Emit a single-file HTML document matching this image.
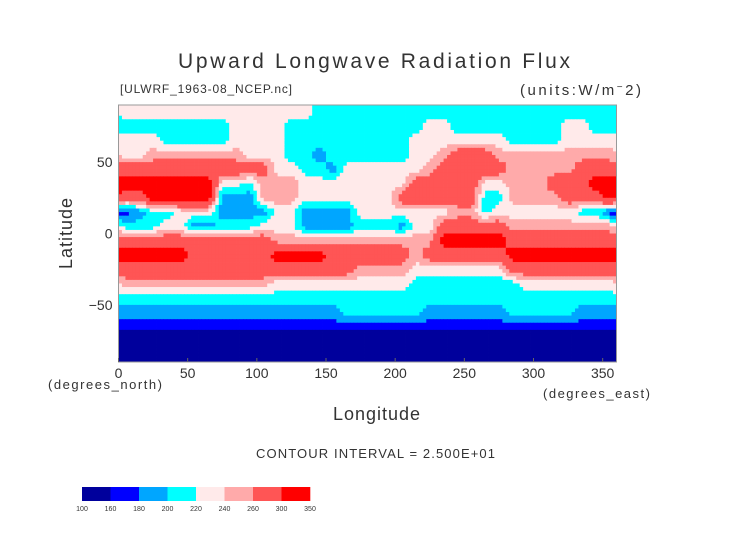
<!DOCTYPE html>
<html><head><meta charset="utf-8"><style>
body{margin:0;background:#fff;}
svg text{font-family:"Liberation Sans","DejaVu Sans",sans-serif;fill:#333;}
</style></head><body>
<svg width="752" height="532" viewBox="0 0 752 532" xmlns="http://www.w3.org/2000/svg">
<rect width="752" height="532" fill="#fff"/>
<text x="178" y="68" font-size="21" textLength="392" lengthAdjust="spacing">Upward Longwave Radiation Flux</text>
<text x="120" y="93" font-size="12" textLength="172" lengthAdjust="spacing">[ULWRF_1963-08_NCEP.nc]</text>
<text x="520" y="95" font-size="15" textLength="121" lengthAdjust="spacing">(units:W/m<tspan baseline-shift="super" font-size="10">−</tspan>2)</text>
<g id="field"></g>
<rect x="118.5" y="105" width="498" height="257" fill="none" stroke="#999" stroke-width="1"/>
<g id="axes"></g>
<text x="48" y="389" font-size="13" textLength="114" lengthAdjust="spacing">(degrees_north)</text>
<text x="543" y="398" font-size="13" textLength="107" lengthAdjust="spacing">(degrees_east)</text>
<text x="333" y="420" font-size="18" textLength="87" lengthAdjust="spacing">Longitude</text>
<text x="0" y="0" font-size="18" text-anchor="middle" letter-spacing="1" transform="translate(72,233) rotate(-90)">Latitude</text>
<text x="256" y="458" font-size="13" textLength="239" lengthAdjust="spacing">CONTOUR INTERVAL = 2.500E+01</text>
<g id="cbar"></g>
</svg>
<script>
const NS="http://www.w3.org/2000/svg";
const levels=[100,160,180,200,220,240,260,300,350];
const levelLabels=["100","160","180","200","220","240","260","300","350"];
const colors=["#00009c","#0000ff","#00a6ff","#00ffff","#ffeaea","#ffaaaa","#ff5555","#ff0000"];
const xTicks=[0,50,100,150,200,250,300,350];
const yTicks=[50,0,-50];
const lats=[85,75,65,55,45,35,25,15,5,-5,-15,-25,-35,-45,-55,-65,-75,-85];
// row codes: A=110 B=170 C=190 D=210 E=230 F=250 G=280 H=320 (10deg lon cells, 0..360)
const rows=[
"EEEEEEEEEEEEEEDDDDDDDDDDDDDDDDDDDDDD",
"DDDDDDDDEEEEDDDDDDDDDDEEDDDDDDDDEEDD",
"EEEDDDDDEEEEDDDDDDDDDEEEEEEEDDDDEEEE",
"EEFFFFFFFEEEDDCDDDDDDEEFGGGFFFFFFFFF",
"GGGGGGGGGGGEEDDCEEEEEEFGGGGGFFFFFGGG",
"HHHHHHHEEDFFFEEEEEEEEGGGGGEEFFFGGGHH",
"GGHHHHHCCCFFFEEEEEEEGGGGGGDDFFFFGGGH",
"BCDDEEECCCCEECCCCEEEEEEEFFDEEEEEEDDB",
"DDDEECCDDDEEECCCCDDDCEEGGGGGFFFFFFFF",
"GGGGGGGGGGGFFFFFFFFFFFFHHHHHGGGGGGGG",
"HHHHHGGGGGGHHHHGGGGGGFGGGGGGHHHHHHHH",
"GGGGGGGGGGGGGGGGGFFFFEEEEEEEGGGGGGGG",
"FFFFFFFFFFFEEEEEEEEEEDDDDDDDDEEEEEEE",
"DDDDDDDDDDDDDDDDDDDDDDDDDDDDDDDDDDDD",
"CCCCCCCCCCCCCCCCDDDDDDCCCCCCDDDDDCCC",
"BBBBBBBBBBBBBBBBBBBBBBBBBBBBBBBBBBBB",
"AAAAAAAAAAAAAAAAAAAAAAAAAAAAAAAAAAAA",
"AAAAAAAAAAAAAAAAAAAAAAAAAAAAAAAAAAAA"];
const code={A:110,B:170,C:190,D:210,E:230,F:250,G:280,H:320};
const X0=118.5,X1=616.5,Y0=105,Y1=362;
const xs=lon=>X0+(lon/360)*(X1-X0);
const ys=lat=>Y0+((90-lat)/180)*(Y1-Y0);
function colorOf(v){for(let i=levels.length-2;i>=0;i--){if(v>=levels[i])return colors[i];}return colors[0];}
const grid=rows.map(r=>r.split('').map(c=>code[c]));
const nr=grid.length,nc=grid[0].length;
function val(lat,lon){
  let fr=(85-lat)/10, fc=(lon-5)/10;
  fr=Math.max(0,Math.min(nr-1,fr));
  const r0=Math.floor(fr),r1=Math.min(nr-1,r0+1),tr=fr-r0;
  const c0f=Math.floor(fc),tc=fc-c0f;
  const c0=((c0f%nc)+nc)%nc,c1=(c0+1)%nc;
  const a=grid[r0][c0]*(1-tc)+grid[r0][c1]*tc;
  const b=grid[r1][c0]*(1-tc)+grid[r1][c1]*tc;
  return a*(1-tr)+b*tr;
}
const g=document.getElementById('field');
const step=2.5;
for(let lat=90;lat>-90;lat-=step){
  for(let lon=0;lon<360;lon+=step){
    const v=val(lat-step/2,lon+step/2);
    const r=document.createElementNS(NS,'rect');
    r.setAttribute('x',xs(lon));r.setAttribute('y',ys(lat));
    r.setAttribute('width',xs(lon+step)-xs(lon)+0.4);r.setAttribute('height',ys(lat-step)-ys(lat)+0.4);
    r.setAttribute('fill',colorOf(v));
    
    
    g.appendChild(r);
  }
}
const ax=document.getElementById('axes');
xTicks.forEach(t=>{
  const l=document.createElementNS(NS,'line');
  l.setAttribute('x1',xs(t));l.setAttribute('x2',xs(t));l.setAttribute('y1',Y1);l.setAttribute('y2',Y1-4);l.setAttribute('stroke','#666');
  
  
  ax.appendChild(l);
  const tx=document.createElementNS(NS,'text');
  tx.setAttribute('x',xs(t));tx.setAttribute('y',Y1+16);tx.setAttribute('font-size','14');tx.setAttribute('text-anchor','middle');
  tx.textContent=t;
  
  
  ax.appendChild(tx);
});
yTicks.forEach(t=>{
  const tx=document.createElementNS(NS,'text');
  tx.setAttribute('x',X0-6);tx.setAttribute('y',ys(t)+5);tx.setAttribute('font-size','14');tx.setAttribute('text-anchor','end');
  tx.textContent=t===0?'0':(t<0?'−'+(-t):String(t));
  
  
  ax.appendChild(tx);
});
const cb=document.getElementById('cbar');
const cx0=82,cx1=310,cw=(cx1-cx0)/colors.length;
colors.forEach((c,i)=>{
  const r=document.createElementNS(NS,'rect');
  r.setAttribute('x',cx0+i*cw);r.setAttribute('y',487);r.setAttribute('width',cw+0.3);r.setAttribute('height',14);r.setAttribute('fill',c);
  
  
  cb.appendChild(r);
});
levelLabels.forEach((s,i)=>{
  const tx=document.createElementNS(NS,'text');
  tx.setAttribute('x',cx0+i*cw);tx.setAttribute('y',511);tx.setAttribute('font-size','7');tx.setAttribute('text-anchor','middle');
  tx.textContent=s;
  
  
  cb.appendChild(tx);
});
</script>
</body></html>
